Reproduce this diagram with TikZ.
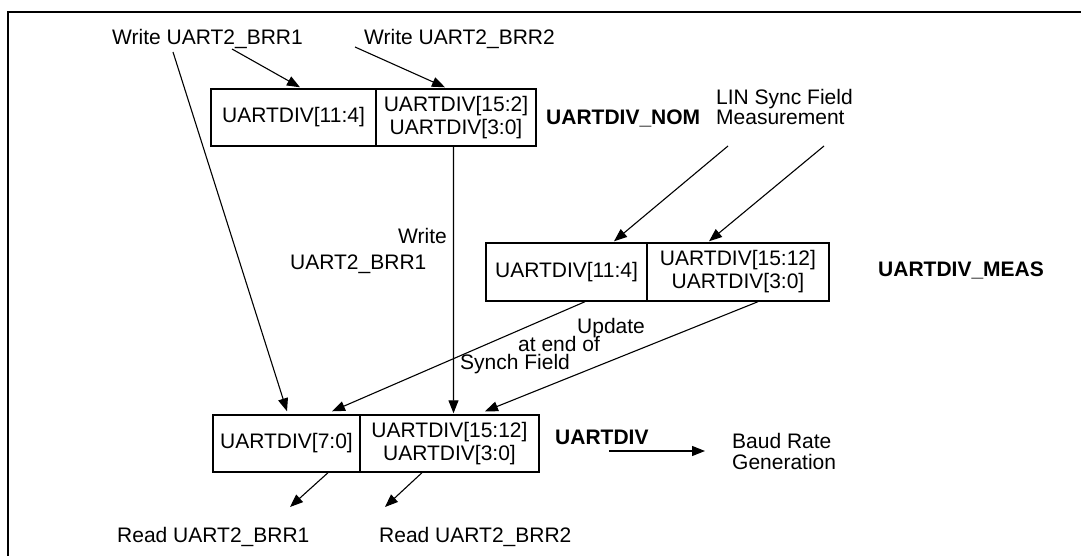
\documentclass[tikz,border=0pt]{standalone}
\usepackage{fontspec}
\setmainfont{Liberation Sans}
\usetikzlibrary{arrows.meta}
\begin{document}
\begin{tikzpicture}[x=1bp,y=-1bp,
  lbl/.style={font=\fontsize{21bp}{23bp}\selectfont, inner sep=0pt},
  blbl/.style={font=\fontsize{21bp}{23bp}\selectfont\bfseries, inner sep=0pt},
  cell/.style={draw, line width=1.4bp, inner sep=0pt, align=center,
    font=\fontsize{21bp}{23bp}\selectfont, minimum height=57bp},
  arr/.style={line width=1.1bp, -{Triangle[length=13bp,width=10bp]}}]
\useasboundingbox (0,0) rectangle (1081,556);
\fill[white] (0,0) rectangle (1081,556);
% frame
\draw[line width=2bp] (8,556) -- (8,12) -- (1081,12);
% boxes
\node[cell, minimum width=165bp] (nomL) at (293.5,117.5) {UARTDIV[11:4]};
\node[cell, minimum width=160bp] (nomR) at (456,117.5) {UARTDIV[15:2]\\UARTDIV[3:0]};
\node[cell, minimum width=161bp, minimum height=58bp] (measL) at (566.5,272) {UARTDIV[11:4]};
\node[cell, minimum width=182bp, minimum height=58bp] (measR) at (738,272) {UARTDIV[15:12]\\UARTDIV[3:0]};
\node[cell, minimum width=147bp] (lowL) at (286.5,443.5) {UARTDIV[7:0]};
\node[cell, minimum width=179bp] (lowR) at (449.5,443.5) {UARTDIV[15:12]\\UARTDIV[3:0]};
% labels
\node[lbl, anchor=base west] (wr1) at (112,45) {Write UART2\_BRR1};
\node[lbl, anchor=base west] (wr2) at (364,45) {Write UART2\_BRR2};
\node[blbl, anchor=base west] (nomlbl) at (546,125) {UARTDIV\_NOM};
\node[lbl, anchor=base west] (lin1) at (716,105) {LIN Sync Field};
\node[lbl, anchor=base west] (lin2) at (716,125) {Measurement};
\node[blbl, anchor=base west] (measlbl) at (878,277) {UARTDIV\_MEAS};
\node[lbl, anchor=base east] (wr3a) at (447,244) {Write};
\node[lbl, anchor=base west] (wr3b) at (290,270) {UART2\_BRR1};
\node[lbl, anchor=base west] (upd1) at (577,334) {Update};
\node[lbl, anchor=base west] (upd2) at (518,352) {at end of};
\node[lbl, anchor=base west] (upd3) at (460,370) {Synch Field};
\node[blbl, anchor=base west] (divlbl) at (555,444) {UARTDIV};
\node[lbl, anchor=base west] (baud1) at (732,448) {Baud Rate};
\node[lbl, anchor=base west] (baud2) at (732,469) {Generation};
\node[lbl, anchor=base west] (read1) at (117,542) {Read UART2\_BRR1};
\node[lbl, anchor=base west] (read2) at (379,542) {Read UART2\_BRR2};
% connectors
\draw[arr] ([shift={(120,4)}]wr1.base west) -- ([shift={(6.5,-1)}]nomL.north);
\draw[arr] ([shift={(-9,2)}]wr2.base west) -- ([shift={(-11,-1)}]nomR.north);
\draw[arr] ([shift={(61,7)}]wr1.base west) -- ([shift={(0.5,-3)}]lowL.north);
\draw[arr] ([shift={(-2.5,0)}]nomR.south) -- ([shift={(4,-1)}]lowR.north);
\draw[arr] ([shift={(12,21)}]lin2.base west) -- ([shift={(47.5,-1)}]measL.north);
\draw[arr] ([shift={(108,21)}]lin2.base west) -- ([shift={(-29,-1)}]measR.north);
\draw[arr] ([shift={(18.5,0)}]measL.south) -- ([shift={(45.5,-3)}]lowL.north);
\draw[arr] ([shift={(20,0)}]measR.south) -- ([shift={(35.5,-3)}]lowR.north);
\draw[arr] ([shift={(41.5,0)}]lowL.south) -- ([shift={(173,-35)}]read1.base west);
\draw[arr] ([shift={(-27.5,0)}]lowR.south) -- ([shift={(6,-35)}]read2.base west);
\draw[arr] ([shift={(54,7)}]divlbl.base west) -- ([shift={(-27,3)}]baud1.base west);
\end{tikzpicture}
\end{document}
